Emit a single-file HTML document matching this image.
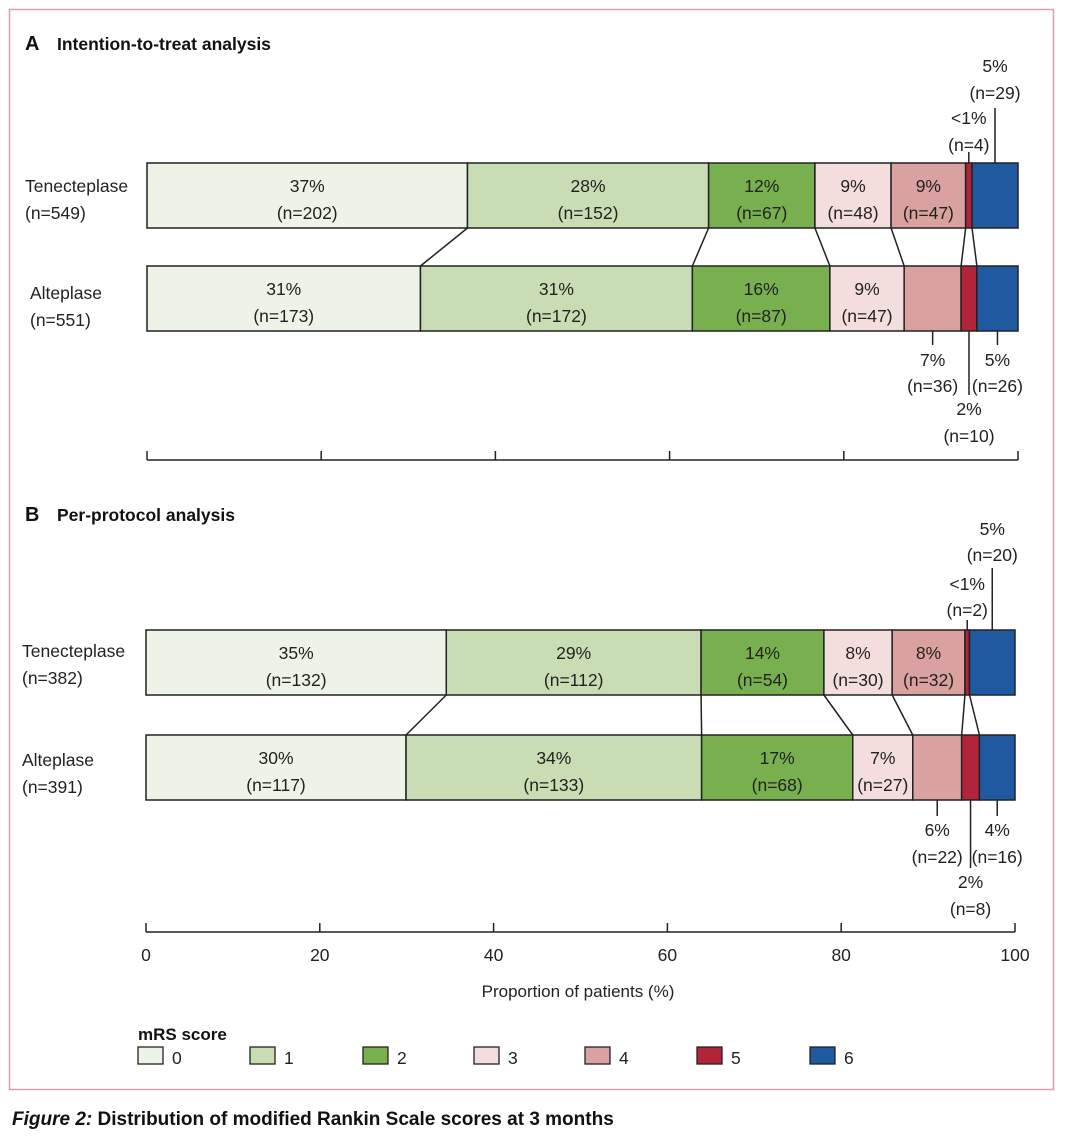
<!DOCTYPE html>
<html><head><meta charset="utf-8">
<style>
html,body{margin:0;padding:0;background:#fff;}
svg{display:block;font-family:"Liberation Sans",sans-serif;}
</style></head>
<body>
<svg id="chart" width="1072" height="1148" viewBox="0 0 1072 1148" xmlns="http://www.w3.org/2000/svg">
<rect x="9.5" y="9.5" width="1044" height="1080" fill="#fff" stroke="#d9a0a8" stroke-width="1.5"/>
<text x="25" y="50" font-size="20" font-weight="bold" fill="#111">A</text>
<text x="57" y="50" font-size="17.5" font-weight="bold" fill="#111">Intention-to-treat analysis</text>
<text x="25" y="521" font-size="20" font-weight="bold" fill="#111">B</text>
<text x="57" y="521" font-size="17.5" font-weight="bold" fill="#111">Per-protocol analysis</text>
<text x="578" y="997" font-size="17" text-anchor="middle" fill="#222">Proportion of patients (%)</text>
<text x="138" y="1040" font-size="17" font-weight="bold" fill="#111">mRS score</text>
<text x="12" y="1125" font-size="19" font-weight="bold" fill="#111"><tspan font-style="italic">Figure 2:</tspan> Distribution of modified Rankin Scale scores at 3 months</text>
<g id="plot"></g>
</svg>
<script>
const categories = ['0','1','2','3','4','5','6'];
const colors = ['#edf3e6','#c9ddb5','#78b04f','#f4dedd','#d9a19f','#b2243a','#1f59a0'];
const ittTenecteplase = [202,152,67,48,47,4,29];
const ittAlteplase = [173,172,87,47,36,10,26];
const ppTenecteplase = [132,112,54,30,32,2,20];
const ppAlteplase = [117,133,68,27,22,8,16];
const groupNames = ['Tenecteplase','Alteplase'];
const tickValues = [0,20,40,60,80,100];

const NS='http://www.w3.org/2000/svg';
const plot=document.getElementById('plot');
function el(tag,attrs,parent){const e=document.createElementNS(NS,tag);for(const k in attrs)e.setAttribute(k,attrs[k]);(parent||plot).appendChild(e);return e;}
function txt(x,y,s,parent,anchor){const t=el('text',{x:x,y:y,'font-size':17.5,'text-anchor':anchor||'middle',fill:'#222'},parent);t.textContent=s;return t;}
function pctLabel(n,N){const p=n/N*100;return p<1?'<1%':Math.round(p)+'%';}

const panels=[
 {id:'itt',x0:147,x1:1018,bars:[{data:ittTenecteplase,y:163,label:[25,192,219]},{data:ittAlteplase,y:266,label:[30,299,326]}],axisY:460,tickLabels:false,
  top:{5:[124,151,152],6:[72,99,108]},bottom:{4:[366,392,345],5:[415,442,395],6:[366,392,345]}},
 {id:'pp',x0:146,x1:1015,bars:[{data:ppTenecteplase,y:630,label:[22,657,684]},{data:ppAlteplase,y:735,label:[22,766,793]}],axisY:932,tickLabels:true,
  top:{5:[590,616,620],6:[535,561,568]},bottom:{4:[836,863,816],5:[888,915,868],6:[836,863,816]}}
];
const H=65;
panels.forEach(P=>{
 const g=el('g',{});
 
 
 const sx=v=>P.x0+v/100*(P.x1-P.x0);
 const bounds=P.bars.map(b=>{const N=b.data.reduce((a,c)=>a+c,0);let c=0;const r=[0];b.data.forEach(v=>{c+=v;r.push(c/N*100);});return r;});
 for(let i=1;i<categories.length;i++){
  const l=el('line',{x1:sx(bounds[0][i]),y1:P.bars[0].y+H,x2:sx(bounds[1][i]),y2:P.bars[1].y,stroke:'#222','stroke-width':1.5},g);
  
  
 }
 P.bars.forEach((b,bi)=>{
  const N=b.data.reduce((a,c)=>a+c,0);const B=bounds[bi];
  const lt=txt(b.label[0],b.label[1],groupNames[bi],g,'start');
  
  
  const ln=txt(b.label[0],b.label[2],'(n='+N+')',g,'start');
  
  
  b.data.forEach((v,i)=>{
   const xa=sx(B[i]),xb=sx(B[i+1]);
   const r=el('rect',{x:xa,y:b.y,width:Math.max(0,xb-xa),height:H,fill:colors[i],stroke:'#222','stroke-width':1.5},g);
   
   
   const cx=(xa+xb)/2;
   const co=bi===0?P.top[i]:P.bottom[i];
   if(co){
    const y0=bi===0?b.y:b.y+H;
    const cl=el('line',{x1:cx,y1:y0,x2:cx,y2:co[2],stroke:'#222','stroke-width':1.5},g);
    
    
    const t1=txt(cx,co[0],pctLabel(v,N),g);
    
    
    const t2=txt(cx,co[1],'(n='+v+')',g);
    
    
   } else if(xb-xa>50){
    const t1=txt(cx,b.y+29,pctLabel(v,N),g);
    
    
    const t2=txt(cx,b.y+56,'(n='+v+')',g);
    
    
   }
  });
 });
 const ax=el('line',{x1:P.x0,y1:P.axisY,x2:P.x1,y2:P.axisY,stroke:'#222','stroke-width':1.5},g);
 
 
 tickValues.forEach(t=>{
  const tk=el('line',{x1:sx(t),y1:P.axisY-9,x2:sx(t),y2:P.axisY,stroke:'#222','stroke-width':1.5},g);
  
  
  if(P.tickLabels){
   const tl=txt(sx(t),P.axisY+29,String(t),g);
   
   
  }
 });
});
const lx=[138,250,363,474,585,697,810];
const legend=el('g',{});


categories.forEach((c,i)=>{
 const r=el('rect',{x:lx[i],y:1047,width:25,height:17,fill:colors[i],stroke:'#222','stroke-width':1.3},legend);
 
 
 const t=txt(lx[i]+34,1064,c,legend,'start');
 
 
});
</script>
</body></html>
